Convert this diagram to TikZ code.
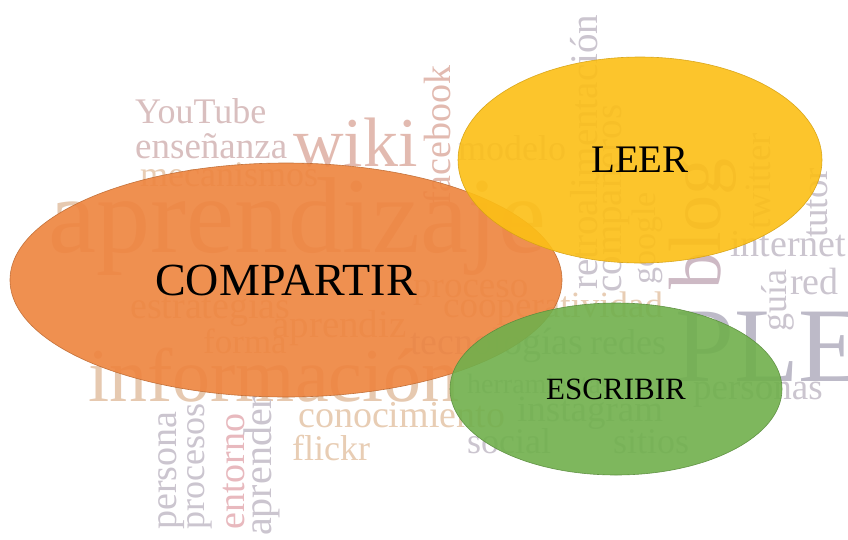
\documentclass[tikz,border=0pt]{standalone}
\usepackage{fontspec}
\setmainfont{Liberation Serif}
\usetikzlibrary{shapes.geometric}
\definecolor{cpink}{HTML}{D9BFBF}
\definecolor{cpinkb}{HTML}{E2BAB0}
\definecolor{ctan}{HTML}{E8CDB4}
\definecolor{ctanb}{HTML}{E6C9B0}
\definecolor{cgrey}{HTML}{CBC5CF}
\definecolor{cgreyb}{HTML}{BDBAC8}
\definecolor{cmauve}{HTML}{CDB9C4}
\definecolor{crose}{HTML}{E8B9BE}
\definecolor{corange}{HTML}{EE843E}
\definecolor{cyellow}{HTML}{FCBF16}
\definecolor{cgreen}{HTML}{70B04C}
\tikzset{
  cw/.style 2 args={anchor=base west, inner sep=0pt, text=#1, font=\fontsize{#2}{#2}\selectfont},
  cwv/.style 2 args={cw={#1}{#2}, rotate=90},
  blob/.style={ellipse, inner sep=0pt, opacity=0.9, text opacity=1, line width=0.6pt},
}
\begin{document}
\begin{tikzpicture}[x=1pt,y=-1pt]
\useasboundingbox (0,0) rectangle (848,539);
\clip (0,0) rectangle (848,539);
\fill[white] (0,0) rectangle (848,539);
% word cloud
\node[cw={cpink}{36}] (youtube) at (135,123) {YouTube};
\node[cw={cpink}{37}] (ensenanza) at (135,158) {enseñanza};
\node[cw={cpinkb}{70}] (wiki) at (293,166) {wiki};
\node[cwv={cpinkb}{38}] (facebook) at (450,205) {facebook};
\node[cw={ctan}{36}] (mecanismos) at (140,186) {mecanismos};
\node[cw={ctanb}{108}] (aprendizaje) at (48,252) {aprendizaje};
\node[cw={cgrey}{36}] (modelo) at (458,160) {modelo};
\node[cwv={cgrey}{39}] (retro) at (597,290) {retroalimentación};
\node[cwv={cgrey}{39}] (companeros) at (621,293) {compañeros};
\node[cwv={cgrey}{34}] (google) at (655,285) {google};
\node[cwv={cmauve}{74}] (blog) at (720,290) {blog};
\node[cwv={cgrey}{37}] (twitter) at (770,230) {twitter};
\node[cwv={cgrey}{37}] (tutor) at (827,238) {tutor};
\node[cw={cgrey}{38}] (internet) at (730,256) {internet};
\node[cwv={cgrey}{36}] (guia) at (786,332) {guía};
\node[cw={cgrey}{38}] (red) at (790,294) {red};
\node[cw={cgreyb}{106}] (ple) at (675,381) {PLE};
\node[cw={cgrey}{37}] (personas) at (693,399) {personas};
\node[cw={ctan}{37}] (proceso) at (413,297) {proceso};
\node[cw={ctan}{37}] (cooperatividad) at (443,317) {cooperatividad};
\node[cw={ctan}{38}] (estrategias) at (130,318) {estrategias};
\node[cw={ctan}{39}] (aprendiz) at (272,337) {aprendiz};
\node[cw={ctan}{35}] (forma) at (203,353) {forma};
\node[cw={cgrey}{38}] (tecnologias) at (410,354) {tecnologías};
\node[cw={cgrey}{36}] (redes) at (590,354) {redes};
\node[cw={ctanb}{76}] (informacion) at (88,401) {información};
\node[cw={cgrey}{28}] (herramientas) at (467,393) {herramientas};
\node[cw={cgrey}{37}] (instagram) at (517,421) {instagram};
\node[cw={ctan}{38}] (conocimiento) at (298,427) {conocimiento};
\node[cw={cgrey}{36}] (social) at (467,453) {social};
\node[cw={cgrey}{36}] (sitios) at (613,453) {sitios};
\node[cw={ctan}{36}] (flickr) at (292,460) {flickr};
\node[cwv={cgrey}{38}] (persona) at (176,530) {persona};
\node[cwv={cgrey}{36}] (procesos) at (204,530) {procesos};
\node[cwv={crose}{38}] (entorno) at (244,530) {entorno};
\node[cwv={cgrey}{40}] (aprender) at (271,536) {aprender};
% ellipses
\node[blob, fill=corange, draw=corange!80!black, minimum width=552pt, minimum height=234pt,
      font=\fontsize{46}{46}\selectfont] (compartir) at (286,280) {COMPARTIR};
\node[blob, fill=cyellow, draw=cyellow!85!black, minimum width=364pt, minimum height=206pt,
      font=\fontsize{39}{39}\selectfont] (leer) at (640,160) {LEER};
\node[blob, fill=cgreen, draw=cgreen!80!black, minimum width=332pt, minimum height=172pt,
      font=\fontsize{31}{31}\selectfont] (escribir) at (616,389) {ESCRIBIR};
\end{tikzpicture}
\end{document}
